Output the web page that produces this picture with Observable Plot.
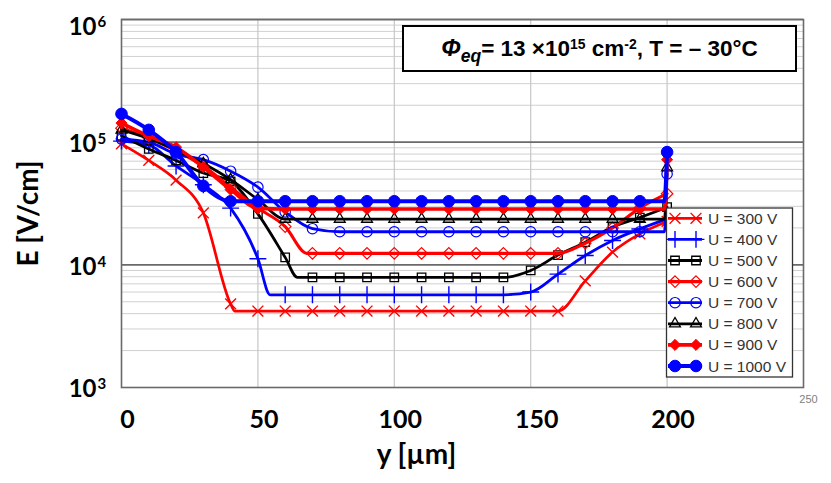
<!DOCTYPE html>
<html><head><meta charset="utf-8">
<script src="https://cdn.jsdelivr.net/npm/d3@7"></script>
<script src="https://cdn.jsdelivr.net/npm/@observablehq/plot@0.6"></script>
<style>
body{margin:0;background:#fff;}
#wrap{position:relative;width:831px;height:483px;overflow:hidden;}
#title{position:absolute;left:402px;top:25px;width:395px;height:47px;box-sizing:border-box;border:2px solid #000;background:#fff;
 font-family:"Liberation Sans",Arial,sans-serif;font-weight:bold;font-size:22.5px;color:#000;
 display:flex;align-items:center;justify-content:center;white-space:nowrap;}
#title sub{font-size:0.78em;vertical-align:-0.35em;line-height:0;}
#title sup{font-size:0.62em;vertical-align:0.5em;line-height:0;}
</style></head><body><div id="wrap"><div id="title"><span><i style="font-size:1.05em">Φ</i><sub><i>eq</i></sub>= 13 ×10<sup>15</sup> cm<sup>-2</sup>, T = – 30°C</span></div></div>
<script>
// ---- data ----
const ypos  = [0,10,20,30,40,50,60,70,80,90,100,110,120,130,140,150,160,170,180,190,200];
const E300  = [9.7e4,7.1e4,4.9e4,2.65e4,4.8e3,4.2e3,4.2e3,4.2e3,4.2e3,4.2e3,4.2e3,4.2e3,4.2e3,4.2e3,4.2e3,4.2e3,4.2e3,7.4e3,1.27e4,1.79e4,2.26e4];
const E400  = [1.02e5,9.5e4,6.4e4,4.5e4,2.9e4,1.12e4,5.7e3,5.7e3,5.7e3,5.7e3,5.7e3,5.7e3,5.7e3,5.7e3,5.7e3,6.0e3,8.4e3,1.19e4,1.58e4,1.96e4,2.37e4];
const E500  = [1.13e5,8.8e4,7.1e4,5.6e4,4.8e4,2.6e4,1.15e4,7.9e3,7.9e3,7.9e3,7.9e3,7.9e3,7.9e3,7.9e3,7.9e3,9.0e3,1.2e4,1.53e4,2.03e4,2.43e4,2.95e4];
const E600  = [1.3e5,1.08e5,8.5e4,6.4e4,4.3e4,2.9e4,2.05e4,1.24e4,1.24e4,1.24e4,1.24e4,1.24e4,1.24e4,1.24e4,1.24e4,1.24e4,1.24e4,1.5e4,2.0e4,2.9e4,3.8e4];
const E700  = [1.06e5,1.0e5,8.0e4,7.2e4,5.8e4,4.3e4,2.7e4,1.97e4,1.86e4,1.86e4,1.86e4,1.86e4,1.86e4,1.86e4,1.86e4,1.86e4,1.86e4,1.86e4,1.86e4,1.86e4,5.5e4];
const E800  = [1.26e5,1.07e5,8.6e4,6.7e4,4.95e4,3.4e4,2.36e4,2.36e4,2.36e4,2.36e4,2.36e4,2.36e4,2.36e4,2.36e4,2.36e4,2.36e4,2.36e4,2.36e4,2.36e4,2.36e4,6.2e4];
const E900  = [1.43e5,1.12e5,9.1e4,6.25e4,4.1e4,2.9e4,2.85e4,2.85e4,2.85e4,2.85e4,2.85e4,2.85e4,2.85e4,2.85e4,2.85e4,2.85e4,2.85e4,2.85e4,2.85e4,2.85e4,7.2e4];
const E1000 = [1.7e5,1.26e5,8.3e4,4.4e4,3.3e4,3.3e4,3.3e4,3.3e4,3.3e4,3.3e4,3.3e4,3.3e4,3.3e4,3.3e4,3.3e4,3.3e4,3.3e4,3.3e4,3.3e4,3.3e4,8.3e4];
const voltages = [300,400,500,600,700,800,900,1000];
// knee where the curve reaches its plateau
const kneeY = [41.5,54.5,64.5,68,null,null,null,null];
const kneeE = [4.2e3,5.7e3,7.9e3,1.24e4,null,null,null,null];
// plateau still seen just before the rear edge (vertical jump at 200 µm)
const rimY = 199;
const rimE = [null,null,null,null,1.86e4,2.36e4,2.85e4,3.3e4];
// axes
const xTicks = [0,50,100,150,200];
const xGrid  = [50,100,150,200];
const yTicks = [1e3,1e4,1e5,1e6];
const yExps  = ["3","4","5","6"];
const minorE = [2e3,3e3,4e3,5e3,6e3,7e3,8e3,9e3,2e4,3e4,4e4,5e4,6e4,7e4,8e4,9e4,2e5,3e5,4e5,5e5,6e5,7e5,8e5,9e5];
const majorE = [1e4,1e5,1e6];

// ---- styles ----
const series = [E300,E400,E500,E600,E700,E800,E900,E1000];
const RED="#ff0000", BLUE="#0000ff", BLK="#000000";
const styles = [
 {c:RED, sym:d3.symbolTimes, r:5, fill:"none", sw:2.7, msw:1.4},
 {c:BLUE, sym:d3.symbolPlus, r:5.5, fill:"none", sw:2.8, msw:1.4},
 {c:BLK, sym:d3.symbolSquare2, r:5.4, fill:"none", sw:2.8, msw:1.3},
 {c:RED, sym:d3.symbolDiamond2, r:5.2, fill:"none", sw:3.1, msw:1.2},
 {c:BLUE, sym:d3.symbolCircle, r:5.2, fill:"none", sw:2.8, msw:1.2},
 {c:BLK, sym:d3.symbolTriangle2, r:5.2, fill:"none", sw:2.8, msw:1.3},
 {c:RED, sym:d3.symbolDiamond2, r:5, fill:RED, sw:3.6, msw:1},
 {c:BLUE, sym:d3.symbolCircle, r:5.8, fill:BLUE, sw:4, msw:1}
];

const FONT = "Lato, 'Open Sans', sans-serif";
const marks = [
  Plot.ruleY(minorE, {stroke:"#d0d0d0", strokeWidth:1}),
  Plot.ruleX(xGrid, {stroke:"#c6c6c6", strokeWidth:1.2}),
  Plot.ruleY(majorE, {stroke:"#6a6a6a", strokeWidth:1.6}),
  Plot.frame({stroke:"#6a6a6a", strokeWidth:1.6})
];
series.forEach((E,i)=>{
  const st = styles[i];
  const pts = ypos.map((y,j)=>({y, E:E[j]}));
  const linePts = pts.slice();
  if (kneeY[i] != null) linePts.push({y:kneeY[i], E:kneeE[i]});
  if (rimE[i] != null) linePts.push({y:rimY, E:rimE[i]});
  linePts.sort((a,b)=>a.y-b.y);
  marks.push(Plot.line(linePts, {x:"y", y:"E", stroke:st.c, strokeWidth:st.sw, curve:"monotone-x"}));
  marks.push(Plot.dot(pts, {x:"y", y:"E", symbol:st.sym, r:st.r, stroke:st.c, fill:st.fill, strokeWidth:st.msw}));
});
// tick labels
marks.push(Plot.text(xTicks, {x:d=>d, frameAnchor:"bottom", lineAnchor:"middle", textAnchor:"middle", dy:32, dx:6, text:d=>String(d), fontSize:25, fontWeight:"bold", fontFamily:FONT, fill:"#000"}));
marks.push(Plot.text([250], {x:d=>d, frameAnchor:"bottom", lineAnchor:"middle", textAnchor:"middle", dy:12, dx:5, text:d=>String(d), fontSize:11, fontFamily:"'Liberation Sans', Arial, sans-serif", fill:"#808080"}));
marks.push(Plot.text(yTicks, {y:d=>d, filter:d=>d!==1e6, frameAnchor:"left", lineAnchor:"middle", dx:-25, dy:2, textAnchor:"end", text:()=>"10", fontSize:24, fontWeight:"bold", fontFamily:FONT, fill:"#000"}));
marks.push(Plot.text(yTicks, {y:d=>d, filter:d=>d!==1e6, frameAnchor:"left", lineAnchor:"middle", dx:-24, dy:-3, textAnchor:"start", text:(d)=>yExps[yTicks.indexOf(d)], fontSize:15, fontWeight:"bold", fontFamily:FONT, fill:"#000"}));
marks.push(Plot.text(yTicks, {y:d=>d, filter:d=>d===1e6, frameAnchor:"left", lineAnchor:"middle", dx:-25, dy:8, textAnchor:"end", text:()=>"10", fontSize:24, fontWeight:"bold", fontFamily:FONT, fill:"#000"}));
marks.push(Plot.text(yTicks, {y:d=>d, filter:d=>d===1e6, frameAnchor:"left", lineAnchor:"middle", dx:-24, dy:3, textAnchor:"start", text:(d)=>yExps[yTicks.indexOf(d)], fontSize:15, fontWeight:"bold", fontFamily:FONT, fill:"#000"}));
// axis titles
marks.push(Plot.text(["y [µm]"], {frameAnchor:"bottom", lineAnchor:"middle", textAnchor:"middle", dx:-46, dy:68, fontSize:28, fontWeight:"bold", fontFamily:FONT, fill:"#000"}));
marks.push(Plot.text(["E [V/cm]"], {frameAnchor:"left", lineAnchor:"middle", textAnchor:"middle", dx:-92, dy:10, rotate:-90, fontSize:28, fontWeight:"bold", fontFamily:FONT, fill:"#000"}));

const chart = Plot.plot({
  width:831, height:483,
  marginLeft:121, marginRight:28, marginTop:19, marginBottom:96,
  x:{domain:[0,250], axis:null},
  y:{type:"log", domain:[1e3,1e6], axis:null},
  style:{background:"#fff", overflow:"visible"},
  marks
});
document.getElementById("wrap").prepend(chart);

// ---- legend ----
const svg = d3.select(chart);
const lg = svg.append("g").attr("text-anchor","start");
lg.append("rect").attr("x",666.5).attr("y",208).attr("width",126).attr("height",169)
  .attr("fill","#fff").attr("stroke","#333").attr("stroke-width",1.3);
voltages.forEach((U,i)=>{
  const st = styles[i];
  const cy = 218.3 + i*21.1;
  lg.append("line").attr("x1",668).attr("x2",702).attr("y1",cy).attr("y2",cy)
    .attr("stroke",st.c).attr("stroke-width",st.sw);
  [675,696].forEach(cx=>{
    lg.append("path").attr("transform",`translate(${cx},${cy})`)
      .attr("d", d3.symbol(st.sym, Math.PI*st.r*st.r)())
      .attr("fill", st.fill).attr("stroke", st.c).attr("stroke-width", st.msw);
  });
  lg.append("text").attr("x",708).attr("y",cy).attr("dy","0.36em").attr("text-anchor","start")
    .attr("font-family","'Liberation Sans', Arial, sans-serif").attr("font-size",15.5)
    .attr("fill","#333").text(`U = ${U} V`);
});
</script>
</body></html>
